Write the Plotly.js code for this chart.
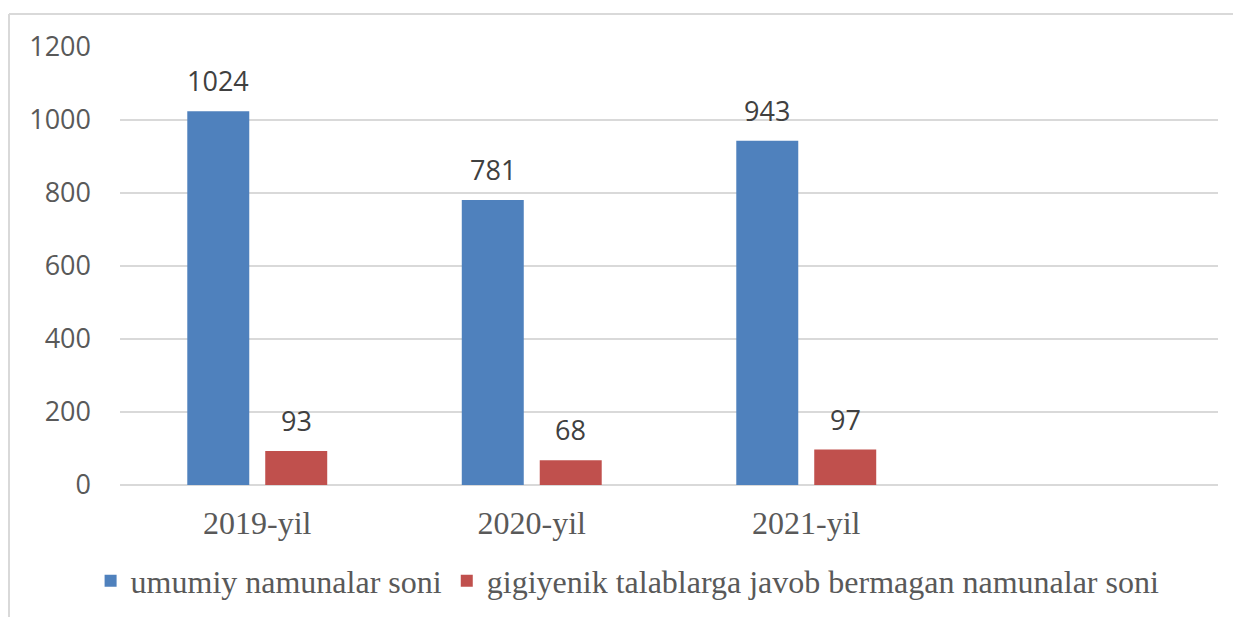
<!DOCTYPE html>
<html><head><meta charset="utf-8">
<script src="https://cdn.plot.ly/plotly-3.0.1.min.js"></script>
<style>html,body{margin:0;padding:0;background:#fff;}#chart{width:1233px;height:617px;}</style>
</head><body><div id="chart"></div>
<script>
const categories = ['2019-yil', '2020-yil', '2021-yil'];
const seriesNames = ['umumiy namunalar soni', 'gigiyenik talablarga javob bermagan namunalar soni'];
const totalSamples = [1024, 781, 943];
const failedSamples = [93, 68, 97];
const yTicks = [0, 200, 400, 600, 800, 1000, 1200];

const colors = ['#4F81BD', '#C0504D'];
const series = [totalSamples, failedSamples];
const shifts = [-39, 39];

const traces = series.map((vals, i) => ({
  type: 'bar', x: categories, y: vals, name: seriesNames[i],
  marker: {color: colors[i]}, hoverinfo: 'x+y'
}));

const annotations = [];
series.forEach((vals, i) => {
  vals.forEach((v, j) => {
    annotations.push({x: categories[j], y: v, xref: 'x', yref: 'y', text: String(v),
      showarrow: false, xshift: shifts[i], yanchor: 'bottom', yshift: 10,
      font: {family: 'Open Sans', size: 27, color: '#404040'}});
  });
});

const layout = {
  width: 1233, height: 617,
  margin: {l: 120, r: 15, t: 47, b: 132},
  paper_bgcolor: '#fff', plot_bgcolor: '#fff',
  barmode: 'group', bargap: 0.432, bargroupgap: 0.205,
  xaxis: {type: 'category', range: [-0.5, 3.5], showgrid: false, zeroline: false,
    showline: false, ticks: '', ticklabelstandoff: 16, automargin: false,
    tickfont: {family: 'Liberation Serif', size: 32, color: '#595959'}},
  yaxis: {range: [0, 1200], tickvals: yTicks, showgrid: true, gridcolor: '#d9d9d9', gridwidth: 1.5,
    zeroline: true, zerolinecolor: '#d9d9d9', zerolinewidth: 1.5, showline: false, ticks: '',
    ticklabelstandoff: 28, automargin: false,
    tickfont: {family: 'Open Sans', size: 27, color: '#595959'}},
  showlegend: true,
  legend: {orientation: 'h', xref: 'container', yref: 'container', x: 0.509, xanchor: 'center',
    y: 0.103, yanchor: 'top',
    font: {family: 'Liberation Serif', size: 32, color: '#595959'}, itemwidth: 30},
  annotations: annotations,
  shapes: [
    {type: 'line', xref: 'paper', yref: 'paper', x0: -0.1011, x1: 1.2, y0: 1.0753, y1: 1.0753,
      line: {color: '#d9d9d9', width: 2}},
    {type: 'line', xref: 'paper', yref: 'paper', x0: -0.1011, x1: -0.1011, y0: 1.0753, y1: -0.4,
      line: {color: '#d9d9d9', width: 2}}
  ]
};
Plotly.newPlot('chart', traces, layout, {displayModeBar: false, staticPlot: true});
</script></body></html>
